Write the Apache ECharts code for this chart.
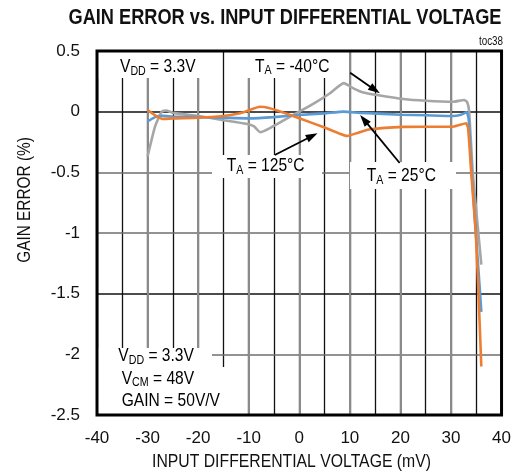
<!DOCTYPE html>
<html>
<head>
<meta charset="utf-8">
<script src="https://cdn.jsdelivr.net/npm/echarts@6/dist/echarts.min.js"></script>
<style>
  html, body { margin: 0; padding: 0; background: #fff; }
  #chart { width: 514px; height: 473px; }
</style>
</head>
<body>
<div id="chart"></div>
<script>
// Gain error (%) against input differential voltage (mV), one curve per temperature.
const xTickLabels = ['-40', '-30', '-20', '-10', '0', '10', '20', '30', '40'];
const yTickLabels = ['-2.5', '-2', '-1.5', '-1', '-0.5', '0', '0.5'];

const gainMinus40C = [
  [-30, -0.37], [-28.5, -0.12], [-27.2, 0.0], [-26.3, 0.01], [-25, -0.01],
  [-20, -0.036], [-15, -0.07], [-10.5, -0.1], [-9, -0.12], [-7.7, -0.17],
  [-6, -0.14], [-3, -0.07], [0, 0.0], [3, 0.07], [6, 0.15], [8.8, 0.235],
  [10.8, 0.19], [12.5, 0.16], [15.4, 0.137], [20.6, 0.104], [25, 0.09],
  [30.4, 0.082], [32.6, 0.096], [33.2, 0.08], [33.6, 0.0], [34.3, -0.5],
  [35.3, -0.95], [36, -1.26]
];

const gain25C = [
  [-30, -0.08], [-28.5, -0.045], [-27, -0.035], [-25, -0.04], [-20, -0.045],
  [-15, -0.05], [-10, -0.055], [-5, -0.045], [0, -0.027], [5, -0.014],
  [8.8, 0.0], [12, -0.01], [15.4, -0.016], [20, -0.025], [25, -0.03],
  [30.4, -0.036], [32, -0.025], [33.1, -0.005], [33.5, -0.06], [34.1, -0.5],
  [35.0, -1.05], [35.76, -1.5], [36, -1.65]
];

const gain125C = [
  [-30, 0.014], [-28.5, -0.03], [-27, -0.06], [-25, -0.055], [-20, -0.05],
  [-15, -0.036], [-12.5, -0.02], [-10.7, 0.0], [-7.8, 0.04], [-6, 0.03],
  [-3, -0.01], [0, -0.055], [5, -0.13], [9.5, -0.2], [11.5, -0.175],
  [14, -0.145], [20.6, -0.125], [25, -0.124], [30.4, -0.124], [33.0, -0.096],
  [33.4, -0.14], [34.0, -0.5], [34.9, -1.0], [35.44, -1.5], [36, -2.1]
];

// Callout arrows: [tail x, tail y, tip x, tip y] in axis units.
const arrowMinus40C = [10.07, 0.321, 15.94, 0.151];
const arrow125C = [-4.85, -0.357, 3.62, -0.178];
const arrow25C = [19.85, -0.423, 12.03, -0.027];

const FONT = "'Liberation Sans', Arial, sans-serif";
const NARROW = 0.82; // horizontal squeeze for the condensed lettering

const chart = echarts.init(document.getElementById('chart'), null, { renderer: 'canvas' });

const txtRich = {
  n: { fontFamily: FONT, fontSize: 19, color: '#111', lineHeight: 22 },
  s: { fontFamily: FONT, fontSize: 13, color: '#111', lineHeight: 12, verticalAlign: 'bottom' }
};

function label(x, y, text) {
  return {
    type: 'text', x: x, y: y, z: 6, scaleX: NARROW,
    style: { text: text, rich: txtRich, textVerticalAlign: 'middle', textAlign: 'left' }
  };
}

function box(x, y, w, h) {
  return { type: 'rect', z: 3, shape: { x: x, y: y, width: w, height: h }, style: { fill: '#fff' } };
}

// Draws a straight callout line ending in a filled arrowhead at the tip.
function renderArrow(params, api) {
  const tail = api.coord([api.value(0), api.value(1)]);
  const tip = api.coord([api.value(2), api.value(3)]);
  const dx = tip[0] - tail[0], dy = tip[1] - tail[1];
  const len = Math.sqrt(dx * dx + dy * dy);
  const ux = dx / len, uy = dy / len;
  const headLen = 12, headHalf = 4;
  const bx = tip[0] - ux * headLen, by = tip[1] - uy * headLen;
  return {
    type: 'group',
    children: [
      { type: 'line', shape: { x1: tail[0], y1: tail[1], x2: bx + ux * 2, y2: by + uy * 2 }, style: { stroke: '#000', lineWidth: 1.8 } },
      { type: 'polygon', shape: { points: [tip, [bx - uy * headHalf, by + ux * headHalf], [bx + uy * headHalf, by - ux * headHalf]] }, style: { fill: '#000' } }
    ]
  };
}

const lineSeries = (name, data, color) => ({
  name: name,
  type: 'line',
  data: data,
  showSymbol: false,
  symbol: 'none',
  smooth: 0.15,
  lineStyle: { color: color, width: 2.6 },
  z: 2
});

const option = {
  animation: false,
  backgroundColor: '#fff',
  grid: {
    left: 97, right: 8, top: 51, bottom: 58,
    show: true, borderColor: '#000', borderWidth: 3,
    backgroundColor: 'transparent', z: 10
  },
  xAxis: [
    {
      type: 'value', min: -40, max: 40, interval: 10, z: 1,
      axisLine: { show: false }, axisTick: { show: false },
      axisLabel: {
        margin: 15, fontFamily: FONT, fontSize: 17, color: '#111',
        formatter: (v) => xTickLabels[Math.round((v + 40) / 10)]
      },
      splitLine: { show: true, lineStyle: { color: '#8a8a8a', width: 2 } }
    },
    {
      type: 'value', min: -40, max: 40, interval: 5, z: 0, position: 'top',
      axisLine: { show: false }, axisTick: { show: false }, axisLabel: { show: false },
      splitLine: { show: true, lineStyle: { color: '#111', width: 1.3 } }
    }
  ],
  yAxis: {
    type: 'value', min: -2.5, max: 0.5, interval: 0.5, z: 1,
    axisLine: { show: false }, axisTick: { show: false },
    axisLabel: {
      margin: 17, fontFamily: FONT, fontSize: 17, color: '#111',
      formatter: (v) => yTickLabels[Math.round((v + 2.5) / 0.5)]
    },
    splitLine: {
      show: true,
      lineStyle: { color: ['#111', '#6e6e6e', '#111', '#6e6e6e', '#6e6e6e', '#111', '#111'], width: 1.6 }
    }
  },
  series: [
    lineSeries('TA = -40°C', gainMinus40C, '#a6a6a6'),
    lineSeries('TA = 25°C', gain25C, '#5b9bd5'),
    lineSeries('TA = 125°C', gain125C, '#ed7d31'),
    {
      name: 'callouts',
      type: 'custom',
      silent: true,
      z: 5,
      renderItem: renderArrow,
      encode: { x: [0, 2], y: [1, 3] },
      data: [arrowMinus40C, arrow125C, arrow25C]
    }
  ],
  graphic: [
    // title and corner tag
    { type: 'text', x: 285, y: 18, z: 6, scaleX: 0.827, style: { text: 'GAIN ERROR vs. INPUT DIFFERENTIAL VOLTAGE', font: "bold 22px " + FONT, fill: '#111', textAlign: 'center', textVerticalAlign: 'middle' } },
    { type: 'text', x: 503, y: 42, z: 6, scaleX: NARROW, style: { text: 'toc38', font: "12px " + FONT, fill: '#111', textAlign: 'right', textVerticalAlign: 'middle' } },
    // axis titles
    { type: 'text', x: 291.5, y: 461.5, z: 6, scaleX: 0.83, style: { text: 'INPUT DIFFERENTIAL VOLTAGE (mV)', font: "19px " + FONT, fill: '#111', textAlign: 'center', textVerticalAlign: 'middle' } },
    { type: 'text', x: 25, y: 200, rotation: Math.PI / 2, scaleX: 0.81, z: 6, style: { text: 'GAIN ERROR (%)', font: "19px " + FONT, fill: '#111', textAlign: 'center', textVerticalAlign: 'middle' } },
    // white backing behind the annotations
    box(98, 52, 116, 26),
    box(236, 52, 113, 26),
    box(212, 155, 110, 23),
    box(350, 162, 106, 27),
    box(98, 348, 114, 66),
    box(98, 367, 146, 47),
    // annotations
    label(120, 66.7, '{n|V}{s|DD}{n| = 3.3V}'),
    label(255, 66.3, '{n|T}{s|A}{n| = -40°C}'),
    label(226.7, 165.5, '{n|T}{s|A}{n| = 125°C}'),
    label(366.7, 175.5, '{n|T}{s|A}{n| = 25°C}'),
    label(118.3, 356, '{n|V}{s|DD}{n| = 3.3V}'),
    label(121.7, 378.3, '{n|V}{s|CM}{n| = 48V}'),
    label(121.7, 400.7, '{n|GAIN = 50V/V}')
  ]
};

chart.setOption(option);
</script>
</body>
</html>
